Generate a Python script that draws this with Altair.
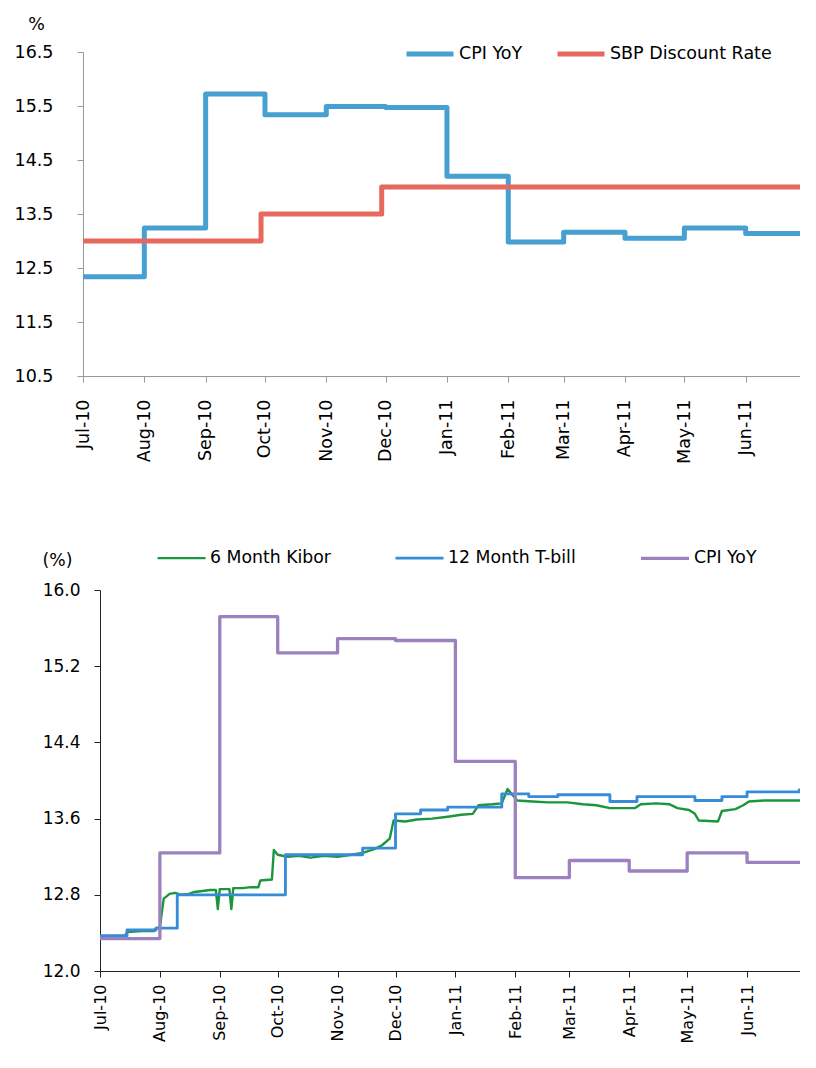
import altair as alt
import pandas as pd

# ---------------- data ----------------
cpi_months = ["2010-07-01", "2010-08-01", "2010-09-01", "2010-10-01", "2010-11-01", "2010-12-01",
              "2011-01-01", "2011-02-01", "2011-03-01", "2011-04-01", "2011-05-01", "2011-06-01"]
cpi_yoy = [12.34, 13.24, 15.72, 15.34, 15.49, 15.47, 14.20, 12.98, 13.16, 13.05, 13.24, 13.14]
cpi_end = "2011-06-30"

sbp_dates = ["2010-07-01", "2010-09-29", "2010-11-29", "2011-07-01"]
sbp_rate = [13.0, 13.5, 14.0, 14.0]

tbill_dates = ["2010-07-01", "2010-07-15", "2010-07-30", "2010-08-10", "2010-10-05", "2010-11-14",
               "2010-12-01", "2010-12-14", "2010-12-28", "2011-01-25", "2011-02-08", "2011-02-23",
               "2011-03-22", "2011-04-05", "2011-05-05", "2011-05-19", "2011-06-01", "2011-06-28",
               "2011-06-30"]
tbill = [12.37, 12.43, 12.45, 12.80, 13.22, 13.29, 13.65, 13.69, 13.72, 13.86, 13.83, 13.85,
         13.78, 13.83, 13.79, 13.83, 13.88, 13.90, 13.90]

kibor_dates = ["2010-07-01", "2010-07-14", "2010-07-15", "2010-07-23", "2010-07-29", "2010-07-30",
               "2010-08-01", "2010-08-03", "2010-08-06", "2010-08-09", "2010-08-12", "2010-08-16",
               "2010-08-19", "2010-08-23", "2010-08-27", "2010-08-30", "2010-08-31", "2010-09-01",
               "2010-09-06", "2010-09-07", "2010-09-08", "2010-09-13", "2010-09-17", "2010-09-21",
               "2010-09-22", "2010-09-28", "2010-09-29", "2010-10-01", "2010-10-06", "2010-10-12",
               "2010-10-18", "2010-10-25", "2010-11-01", "2010-11-08", "2010-11-14", "2010-11-20",
               "2010-11-24", "2010-11-28", "2010-11-30", "2010-12-06", "2010-12-12", "2010-12-20",
               "2010-12-28", "2011-01-04", "2011-01-10", "2011-01-13", "2011-01-20", "2011-01-25",
               "2011-01-28", "2011-02-02", "2011-02-10", "2011-02-18", "2011-02-28", "2011-03-08",
               "2011-03-15", "2011-03-22", "2011-04-04", "2011-04-07", "2011-04-15", "2011-04-22",
               "2011-04-26", "2011-05-02", "2011-05-05", "2011-05-07", "2011-05-17", "2011-05-19",
               "2011-05-26", "2011-05-30", "2011-06-02", "2011-06-10", "2011-06-20", "2011-06-30"]
kibor = [12.36, 12.37, 12.41, 12.42, 12.42, 12.45,
         12.46, 12.76, 12.81, 12.82, 12.80, 12.81,
         12.83, 12.84, 12.85, 12.85, 12.65, 12.86,
         12.86, 12.65, 12.87, 12.87, 12.88, 12.88,
         12.95, 12.96, 13.27, 13.22, 13.20, 13.21,
         13.19, 13.21, 13.20, 13.22, 13.24, 13.28,
         13.32, 13.39, 13.58, 13.57, 13.59, 13.60,
         13.62, 13.64, 13.65, 13.74, 13.75, 13.76,
         13.91, 13.79, 13.78, 13.77, 13.77, 13.75,
         13.74, 13.71, 13.71, 13.75, 13.76, 13.75,
         13.71, 13.69, 13.65, 13.58, 13.57, 13.68,
         13.70, 13.74, 13.78, 13.79, 13.79, 13.79]

top_y_ticks = [10.5, 11.5, 12.5, 13.5, 14.5, 15.5, 16.5]
bot_y_ticks = [12.0, 12.8, 13.6, 14.4, 15.2, 16.0]

# ---------------- frames ----------------
def frame(dates, values, name):
    return pd.DataFrame({"date": pd.to_datetime(dates), "value": values, "series": name})

cpi_df = frame(cpi_months + [cpi_end], cpi_yoy + [cpi_yoy[-1]], "CPI YoY")
sbp_df = frame(sbp_dates, sbp_rate, "SBP Discount Rate")
tbill_df = frame(tbill_dates, tbill, "12 Month T-bill")
kibor_df = frame(kibor_dates, kibor, "6 Month Kibor")

def dt(s):
    d = pd.Timestamp(s)
    return alt.DateTime(year=d.year, month=d.month, date=d.day)

month_ticks = [dt(s) for s in cpi_months]
x_domain = [dt("2010-07-01"), dt("2011-07-01")]

FONT = "DejaVu Sans, Verdana, sans-serif"

# ---------------- top chart ----------------
TOP_W, TOP_H = 722, 324
top_gray = "#999999"

top_color = alt.Color(
    "series:N",
    title=None,
    scale=alt.Scale(domain=["CPI YoY", "SBP Discount Rate"], range=["#46A0D2", "#E6695F"]),
    legend=alt.Legend(
        orient="none", legendX=321, legendY=-24, direction="horizontal",
        symbolType="stroke", symbolSize=2209, symbolStrokeWidth=5,
        labelFont=FONT, labelFontSize=17.5, labelColor="black", labelOffset=3,
        labelLimit=400, columnPadding=24,
    ),
)

top_x = alt.X(
    "date:T",
    scale=alt.Scale(domain=x_domain),
    axis=alt.Axis(
        values=month_ticks, format="%b-%y", labelAngle=-90, labelPadding=17,
        tickSize=6, domainColor=top_gray, tickColor=top_gray, labelColor="black",
        labelFont=FONT, labelFontSize=17.5, labelOverlap=False, title=None,
    ),
)
top_y = alt.Y(
    "value:Q",
    scale=alt.Scale(domain=[10.5, 16.5], nice=False, zero=False),
    axis=alt.Axis(
        values=top_y_ticks, format=".1f", tickSize=6, labelPadding=24,
        domainColor=top_gray, tickColor=top_gray, labelColor="black",
        labelFont=FONT, labelFontSize=17.5,
        title="%", titleAngle=0, titleX=-47, titleY=-28, titleAlign="center",
        titleBaseline="middle", titleFont=FONT, titleFontSize=17.5, titleFontWeight="normal",
        titleColor="black",
    ),
)

top_cpi = alt.Chart(cpi_df).mark_line(
    interpolate="step-after", strokeWidth=5, strokeJoin="round").encode(
    x=top_x, y=top_y, color=top_color)
top_sbp = alt.Chart(sbp_df).mark_line(
    interpolate="step-after", strokeWidth=5, strokeJoin="round").encode(
    x=top_x, y=top_y, color=top_color)

top = alt.layer(top_cpi, top_sbp).properties(width=TOP_W, height=TOP_H)

# ---------------- bottom chart ----------------
BOT_H = 381
dark = "#222222"
bot_order = ["6 Month Kibor", "12 Month T-bill", "CPI YoY"]

bot_legend = alt.Legend(
    orient="none", legendX=73, legendY=-58, direction="horizontal",
    symbolType="stroke", symbolSize=2304,
    labelFont=FONT, labelFontSize=17.3, labelColor="black", labelOffset=3,
    labelLimit=400, columnPadding=58,
)
bot_color = alt.Color(
    "series:N", title=None,
    scale=alt.Scale(domain=bot_order, range=["#1A963C", "#378CD7", "#9B82BE"]),
    legend=bot_legend,
)
bot_width = alt.StrokeWidth(
    "series:N", title=None,
    scale=alt.Scale(domain=bot_order, range=[2.4, 3.3, 5]),
    legend=bot_legend,
)

bot_x = alt.X(
    "date:T",
    scale=alt.Scale(domain=x_domain, range=[17, TOP_W]),
    axis=alt.Axis(
        values=month_ticks, format="%b-%y", labelAngle=-90,
        labelPadding=7, tickSize=6, domainColor=dark, tickColor=dark, labelColor="black",
        labelFont=FONT, labelFontSize=16, labelOverlap=False, title=None,
    ),
)
bot_y = alt.Y(
    "value:Q",
    scale=alt.Scale(domain=[12.0, 16.0], nice=False, zero=False),
    axis=alt.Axis(
        values=bot_y_ticks, format=".1f", tickSize=6, labelPadding=14, offset=-17,
        domainColor=dark, tickColor=dark, labelColor="black",
        labelFont=FONT, labelFontSize=17,
        title="(%)", titleAngle=0, titleX=-43, titleY=-30, titleAlign="center",
        titleBaseline="middle", titleFont=FONT, titleFontSize=17.3, titleFontWeight="normal",
        titleColor="black",
    ),
)

bot_kibor = alt.Chart(kibor_df).mark_line(strokeJoin="round").encode(
    x=bot_x, y=bot_y, color=bot_color, strokeWidth=bot_width)
bot_tbill = alt.Chart(tbill_df).mark_line(interpolate="step-after", strokeJoin="round").encode(
    x=bot_x, y=bot_y, color=bot_color, strokeWidth=bot_width)
bot_cpi = alt.Chart(cpi_df).mark_line(interpolate="step-after", strokeJoin="round").encode(
    x=bot_x, y=bot_y, color=bot_color, strokeWidth=bot_width)

bottom = alt.layer(bot_kibor, bot_tbill, bot_cpi).properties(width=TOP_W, height=BOT_H)

chart = (
    alt.vconcat(top, bottom, spacing=68)
    .resolve_scale(color="independent", strokeWidth="independent")
    .properties(padding={"left": 6, "top": 7, "right": -8, "bottom": 0})
    .configure_view(stroke=None)
    .configure_axis(grid=False)
)

chart.save("out.html", embed_options={"renderer": "svg", "actions": False})
